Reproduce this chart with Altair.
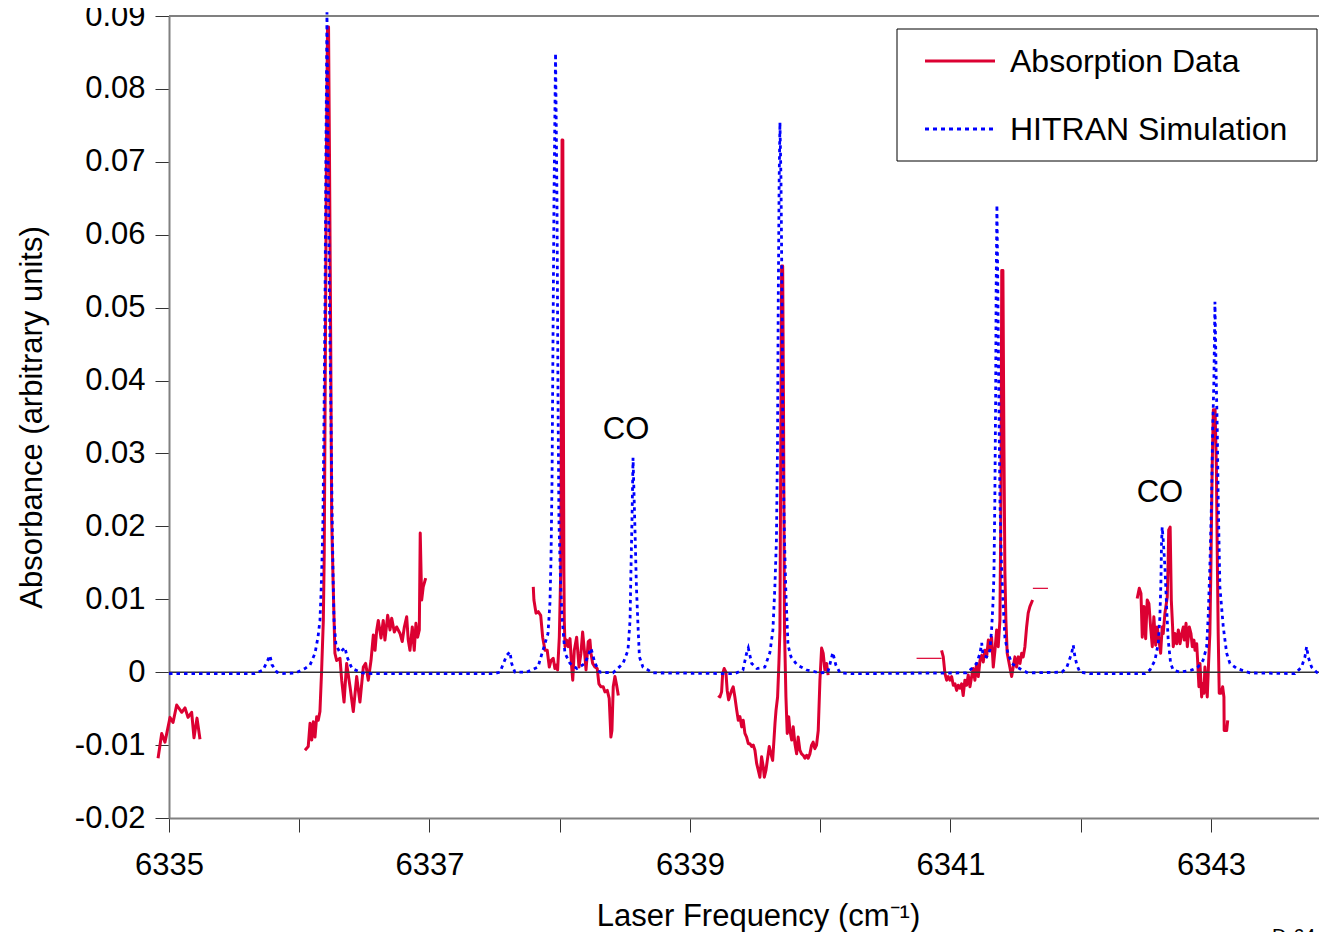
import altair as alt
import pandas as pd

FONT = "Liberation Sans"
RED = "#DC0032"
BLUE = "#0000FF"

# ---------------- data (frequency cm-1, absorbance) ----------------
hitran = [
    (6335.000, -0.0002), (6335.660, -0.0002), (6335.722, 0.0003), (6335.752, 0.0014),
    (6335.775, 0.0023), (6335.791, 0.0010), (6335.829, 0.0000), (6335.868, -0.0002),
    (6335.975, -0.0001), (6336.044, 0.0005), (6336.083, 0.0010), (6336.121, 0.0026),
    (6336.144, 0.0048), (6336.159, 0.0071), (6336.167, 0.0106), (6336.175, 0.0154),
    (6336.182, 0.0209), (6336.186, 0.0277), (6336.190, 0.0346), (6336.198, 0.0510),
    (6336.205, 0.0716), (6336.213, 0.0905), (6336.221, 0.0716), (6336.232, 0.0510),
    (6336.244, 0.0346), (6336.251, 0.0236), (6336.259, 0.0140), (6336.267, 0.0071),
    (6336.282, 0.0037), (6336.313, 0.0027), (6336.351, 0.0034), (6336.367, 0.0021),
    (6336.405, 0.0005), (6336.482, -0.0001), (6336.550, -0.0002), (6337.500, -0.0002),
    (6337.541, 0.0000), (6337.593, 0.0023), (6337.618, 0.0028), (6337.631, 0.0012),
    (6337.656, 0.0000), (6337.746, 0.0000), (6337.833, 0.0007), (6337.871, 0.0030),
    (6337.910, 0.0053), (6337.925, 0.0095), (6337.933, 0.0154), (6337.941, 0.0263),
    (6337.948, 0.0442), (6337.956, 0.0647), (6337.968, 0.0849), (6337.979, 0.0647),
    (6337.987, 0.0373), (6337.994, 0.0209), (6338.006, 0.0126), (6338.017, 0.0078),
    (6338.040, 0.0026), (6338.079, 0.0012), (6338.132, 0.0005), (6338.194, 0.0012),
    (6338.240, 0.0033), (6338.271, 0.0012), (6338.309, 0.0000), (6338.409, -0.0001),
    (6338.486, 0.0012), (6338.524, 0.0030), (6338.540, 0.0071), (6338.547, 0.0140),
    (6338.555, 0.0209), (6338.563, 0.0294), (6338.578, 0.0195), (6338.589, 0.0117),
    (6338.601, 0.0064), (6338.612, 0.0021), (6338.639, 0.0007), (6338.716, -0.0001),
    (6339.346, -0.0002), (6339.407, 0.0003), (6339.435, 0.0026), (6339.448, 0.0033),
    (6339.474, 0.0012), (6339.514, 0.0005), (6339.575, 0.0007), (6339.614, 0.0027),
    (6339.637, 0.0058), (6339.652, 0.0117), (6339.664, 0.0181), (6339.672, 0.0305),
    (6339.678, 0.0510), (6339.685, 0.0675), (6339.691, 0.0754), (6339.699, 0.0675),
    (6339.707, 0.0510), (6339.714, 0.0305), (6339.726, 0.0181), (6339.737, 0.0106),
    (6339.753, 0.0037), (6339.776, 0.0021), (6339.822, 0.0010), (6339.898, 0.0003),
    (6339.997, -0.0001), (6340.059, 0.0000), (6340.082, 0.0016), (6340.097, 0.0027),
    (6340.120, 0.0010), (6340.152, -0.0001), (6340.250, -0.0002), (6341.124, -0.0001),
    (6341.163, 0.0005), (6341.201, 0.0012), (6341.227, 0.0026), (6341.240, 0.0040),
    (6341.250, 0.0023), (6341.278, 0.0021), (6341.303, 0.0030), (6341.316, 0.0058),
    (6341.326, 0.0092), (6341.334, 0.0133), (6341.341, 0.0236), (6341.347, 0.0373),
    (6341.351, 0.0524), (6341.357, 0.0641), (6341.364, 0.0524), (6341.372, 0.0373),
    (6341.380, 0.0236), (6341.391, 0.0154), (6341.403, 0.0099), (6341.418, 0.0048),
    (6341.441, 0.0026), (6341.472, 0.0012), (6341.511, 0.0007), (6341.549, 0.0003),
    (6341.595, -0.0001), (6341.856, 0.0000), (6341.894, 0.0007), (6341.931, 0.0026),
    (6341.943, 0.0037), (6341.956, 0.0021), (6341.971, 0.0010), (6341.994, 0.0000),
    (6342.071, -0.0002), (6342.493, -0.0002), (6342.532, 0.0003), (6342.570, 0.0016),
    (6342.596, 0.0040), (6342.608, 0.0075), (6342.616, 0.0122), (6342.621, 0.0177),
    (6342.626, 0.0199), (6342.634, 0.0181), (6342.647, 0.0144), (6342.660, 0.0089),
    (6342.672, 0.0044), (6342.691, 0.0012), (6342.711, 0.0003), (6342.762, 0.0000),
    (6342.854, 0.0003), (6342.900, 0.0007), (6342.939, 0.0016), (6342.967, 0.0034),
    (6342.979, 0.0075), (6342.992, 0.0144), (6343.005, 0.0236), (6343.013, 0.0328),
    (6343.023, 0.0400), (6343.031, 0.0508), (6343.041, 0.0400), (6343.049, 0.0332),
    (6343.056, 0.0236), (6343.069, 0.0117), (6343.095, 0.0062), (6343.121, 0.0026),
    (6343.146, 0.0012), (6343.200, 0.0005), (6343.300, -0.0001), (6343.645, -0.0002),
    (6343.696, 0.0007), (6343.722, 0.0021), (6343.735, 0.0035), (6343.747, 0.0021),
    (6343.773, 0.0007), (6343.811, 0.0000), (6343.830, -0.0002),
]

absorption_1 = [
    (6334.916, -0.0118), (6334.944, -0.0084), (6334.969, -0.0096), (6335.008, -0.0062),
    (6335.031, -0.0069), (6335.059, -0.0045), (6335.098, -0.0055), (6335.123, -0.0049),
    (6335.146, -0.0062), (6335.174, -0.0055), (6335.192, -0.0090), (6335.215, -0.0063),
    (6335.238, -0.0092),
]

absorption_2 = [
    (6336.044, -0.0107), (6336.069, -0.0102), (6336.083, -0.0070), (6336.096, -0.0093),
    (6336.108, -0.0068), (6336.121, -0.0089), (6336.134, -0.0061), (6336.146, -0.0066),
    (6336.159, -0.0054), (6336.172, 0.0003), (6336.185, 0.0071), (6336.192, 0.0163),
    (6336.201, 0.0442), (6336.209, 0.0716), (6336.217, 0.0885), (6336.225, 0.0885),
    (6336.232, 0.0716), (6336.242, 0.0442), (6336.249, 0.0209), (6336.261, 0.0117),
    (6336.274, 0.0026), (6336.287, 0.0016), (6336.313, 0.0019), (6336.326, -0.0011),
    (6336.344, -0.0041), (6336.364, 0.0012), (6336.390, -0.0020), (6336.415, -0.0054),
    (6336.441, -0.0006), (6336.466, -0.0041), (6336.492, 0.0007), (6336.510, 0.0012),
    (6336.530, -0.0011), (6336.551, 0.0016), (6336.569, 0.0051), (6336.582, 0.0030),
    (6336.595, 0.0058), (6336.607, 0.0071), (6336.628, 0.0047), (6336.645, 0.0071),
    (6336.658, 0.0044), (6336.679, 0.0078), (6336.697, 0.0058), (6336.710, 0.0074),
    (6336.730, 0.0055), (6336.748, 0.0062), (6336.774, 0.0053), (6336.791, 0.0042),
    (6336.807, 0.0062), (6336.825, 0.0076), (6336.837, 0.0044), (6336.850, 0.0030),
    (6336.868, 0.0062), (6336.883, 0.0030), (6336.896, 0.0067), (6336.909, 0.0048),
    (6336.922, 0.0058), (6336.929, 0.0191), (6336.940, 0.0099), (6336.952, 0.0117),
    (6336.971, 0.0129),
]

absorption_3 = [
    (6337.797, 0.0117), (6337.802, 0.0099), (6337.818, 0.0081), (6337.835, 0.0083),
    (6337.854, 0.0078), (6337.869, 0.0048), (6337.887, 0.0030), (6337.904, 0.0030),
    (6337.920, 0.0007), (6337.933, 0.0016), (6337.950, 0.0019), (6337.963, 0.0005),
    (6337.977, 0.0010), (6337.984, 0.0003), (6337.997, 0.0048), (6338.008, 0.0140),
    (6338.014, 0.0442), (6338.018, 0.0730), (6338.024, 0.0730), (6338.028, 0.0373),
    (6338.032, 0.0140), (6338.035, 0.0071), (6338.041, 0.0035), (6338.054, 0.0044),
    (6338.066, 0.0035), (6338.079, 0.0046), (6338.092, 0.0007), (6338.100, -0.0011),
    (6338.112, 0.0030), (6338.130, 0.0048), (6338.148, 0.0007), (6338.163, 0.0026),
    (6338.176, 0.0055), (6338.194, 0.0021), (6338.202, 0.0003), (6338.219, 0.0042),
    (6338.232, 0.0044), (6338.240, 0.0026), (6338.253, 0.0012), (6338.271, 0.0007),
    (6338.288, 0.0005), (6338.301, -0.0016), (6338.317, -0.0020), (6338.334, -0.0020),
    (6338.347, -0.0027), (6338.365, -0.0025), (6338.380, -0.0036), (6338.393, -0.0089),
    (6338.401, -0.0080), (6338.411, -0.0020), (6338.424, -0.0006), (6338.437, -0.0018),
    (6338.450, -0.0032),
]

absorption_4 = [
    (6339.217, -0.0032), (6339.230, -0.0034), (6339.243, -0.0027), (6339.251, -0.0002),
    (6339.263, 0.0005), (6339.276, 0.0000), (6339.286, -0.0025), (6339.297, -0.0038),
    (6339.307, -0.0032), (6339.320, -0.0025), (6339.332, -0.0020), (6339.345, -0.0034),
    (6339.359, -0.0052), (6339.371, -0.0066), (6339.384, -0.0061), (6339.397, -0.0075),
    (6339.409, -0.0066), (6339.422, -0.0084), (6339.435, -0.0089), (6339.448, -0.0098),
    (6339.461, -0.0098), (6339.474, -0.0102), (6339.486, -0.0100), (6339.499, -0.0107),
    (6339.512, -0.0125), (6339.524, -0.0134), (6339.537, -0.0144), (6339.550, -0.0116),
    (6339.563, -0.0130), (6339.571, -0.0144), (6339.584, -0.0134), (6339.594, -0.0121),
    (6339.609, -0.0102), (6339.622, -0.0112), (6339.635, -0.0121), (6339.645, -0.0093),
    (6339.653, -0.0070), (6339.661, -0.0052), (6339.673, -0.0034), (6339.683, 0.0012),
    (6339.691, 0.0058), (6339.699, 0.0373), (6339.704, 0.0557), (6339.712, 0.0557),
    (6339.718, 0.0373), (6339.726, 0.0058), (6339.737, -0.0034), (6339.747, -0.0084),
    (6339.758, -0.0061), (6339.768, -0.0080), (6339.781, -0.0093), (6339.793, -0.0075),
    (6339.806, -0.0098), (6339.819, -0.0112), (6339.831, -0.0089), (6339.844, -0.0107),
    (6339.857, -0.0112), (6339.870, -0.0114), (6339.883, -0.0118), (6339.896, -0.0114),
    (6339.908, -0.0118), (6339.921, -0.0112), (6339.934, -0.0100), (6339.946, -0.0096),
    (6339.959, -0.0105), (6339.972, -0.0100), (6339.985, -0.0080), (6339.998, -0.0011),
    (6340.011, 0.0033), (6340.023, 0.0026), (6340.036, 0.0003), (6340.049, 0.0012),
    (6340.061, -0.0004),
]

absorption_5 = [
    (6340.932, 0.0030), (6340.945, 0.0021), (6340.958, -0.0002), (6340.971, -0.0011),
    (6340.983, -0.0006), (6340.996, -0.0011), (6341.009, -0.0006), (6341.022, -0.0018),
    (6341.035, -0.0016), (6341.048, -0.0025), (6341.060, -0.0018), (6341.073, -0.0022),
    (6341.086, -0.0016), (6341.098, -0.0032), (6341.111, -0.0011), (6341.124, -0.0018),
    (6341.137, -0.0004), (6341.150, -0.0020), (6341.163, -0.0006), (6341.175, 0.0005),
    (6341.188, -0.0011), (6341.201, 0.0012), (6341.214, -0.0006), (6341.227, 0.0016),
    (6341.240, 0.0023), (6341.252, 0.0014), (6341.265, 0.0030), (6341.278, 0.0021),
    (6341.291, 0.0044), (6341.303, 0.0030), (6341.316, 0.0048), (6341.329, 0.0007),
    (6341.342, 0.0030), (6341.355, 0.0058), (6341.367, 0.0035), (6341.380, 0.0071),
    (6341.388, 0.0236), (6341.394, 0.0551), (6341.403, 0.0551), (6341.411, 0.0305),
    (6341.418, 0.0140), (6341.426, 0.0071), (6341.436, 0.0026), (6341.451, 0.0012),
    (6341.470, -0.0006), (6341.482, 0.0007), (6341.495, 0.0021), (6341.508, 0.0007),
    (6341.521, 0.0021), (6341.534, 0.0012), (6341.547, 0.0026), (6341.559, 0.0021),
    (6341.572, 0.0035), (6341.585, 0.0062), (6341.597, 0.0081), (6341.610, 0.0090),
    (6341.631, 0.0099),
]

absorption_6 = [
    (6342.434, 0.0101), (6342.450, 0.0115), (6342.463, 0.0108), (6342.473, 0.0048),
    (6342.486, 0.0090), (6342.499, 0.0046), (6342.511, 0.0099), (6342.524, 0.0094),
    (6342.537, 0.0062), (6342.550, 0.0035), (6342.562, 0.0076), (6342.576, 0.0037),
    (6342.588, 0.0062), (6342.601, 0.0044), (6342.614, 0.0026), (6342.626, 0.0062),
    (6342.634, 0.0053), (6342.647, 0.0081), (6342.665, 0.0103), (6342.672, 0.0154),
    (6342.676, 0.0195), (6342.687, 0.0199), (6342.696, 0.0099), (6342.706, 0.0062),
    (6342.711, 0.0035), (6342.724, 0.0053), (6342.737, 0.0039), (6342.750, 0.0058),
    (6342.763, 0.0039), (6342.776, 0.0053), (6342.788, 0.0062), (6342.796, 0.0044),
    (6342.809, 0.0067), (6342.819, 0.0035), (6342.834, 0.0062), (6342.847, 0.0053),
    (6342.857, 0.0035), (6342.870, 0.0044), (6342.878, 0.0030), (6342.891, 0.0039),
    (6342.898, 0.0016), (6342.908, -0.0020), (6342.916, 0.0012), (6342.929, -0.0034),
    (6342.936, -0.0016), (6342.946, -0.0029), (6342.954, 0.0007), (6342.962, -0.0011),
    (6342.972, -0.0034), (6342.983, 0.0016), (6342.992, 0.0053), (6343.000, 0.0144),
    (6343.010, 0.0282), (6343.019, 0.0360), (6343.032, 0.0360), (6343.042, 0.0282),
    (6343.050, 0.0144), (6343.056, 0.0053), (6343.064, -0.0029), (6343.077, -0.0029),
    (6343.090, -0.0020), (6343.100, -0.0034), (6343.102, -0.0080), (6343.121, -0.0080),
    (6343.129, -0.0066),
]

# short thin pieces of the measured trace
absorption_thin_1 = [(6340.740, 0.0019), (6340.932, 0.0019)]
absorption_thin_2 = [(6341.633, 0.0115), (6341.749, 0.0115)]

x_tick_values = [6335, 6336, 6337, 6338, 6339, 6340, 6341, 6342, 6343]
y_tick_values = [-0.02, -0.01, 0.0, 0.01, 0.02, 0.03, 0.04, 0.05, 0.06, 0.07, 0.08, 0.09]

annotations = [(6338.509, 0.0332, "CO"), (6342.609, 0.0246, "CO")]

# ---------------- frames ----------------
red_rows = []
for seg_id, (seg, w) in enumerate([
    (absorption_1, 3), (absorption_2, 3), (absorption_3, 3), (absorption_4, 3),
    (absorption_5, 3), (absorption_6, 3), (absorption_thin_1, 1.2), (absorption_thin_2, 1.2),
]):
    for i, (f, a) in enumerate(seg):
        red_rows.append({"f": f, "a": a, "seg": seg_id, "i": i, "w": w})
red_df = pd.DataFrame(red_rows)

blue_df = pd.DataFrame([{"f": f, "a": a, "i": i} for i, (f, a) in enumerate(hitran)])
ann_df = pd.DataFrame([{"f": f, "a": a, "t": t} for f, a, t in annotations])

x_scale = alt.Scale(domain=[6335, 6343.83], nice=False, zero=False)
y_scale = alt.Scale(domain=[-0.02, 0.09], nice=False, zero=False)

x_axis = alt.Axis(
    values=x_tick_values,
    labelExpr="datum.value % 2 == 1 ? format(datum.value, 'd') : ''",
    tickSize=14, tickColor="#333333", tickWidth=1,
    domainColor="#808080", domainWidth=2,
    labelFont=FONT, labelFontSize=31, labelColor="black", labelPadding=18,
    labelFlush=False, labelOverlap=False,
    grid=False,
    title="Laser Frequency (cm⁻¹)", titleFont=FONT, titleFontSize=31,
    titleFontWeight="normal", titleColor="black", titlePadding=21, titleX=589,
)
y_axis = alt.Axis(
    values=y_tick_values,
    labelExpr="abs(datum.value) < 1e-9 ? '0' : (datum.value < 0 ? '-' : '') + format(abs(datum.value), '.2f')",
    tickSize=14, tickColor="#333333", tickWidth=1,
    domainColor="#808080", domainWidth=2,
    labelFont=FONT, labelFontSize=31, labelColor="black", labelPadding=10,
    labelFlush=False, labelOverlap=False,
    grid=False,
    title="Absorbance (arbitrary units)", titleFont=FONT, titleFontSize=31,
    titleFontWeight="normal", titleColor="black", titlePadding=26,
)

red = alt.Chart(red_df).mark_line(color=RED, strokeJoin="round", strokeCap="butt").encode(
    x=alt.X("f:Q", scale=x_scale, axis=x_axis),
    y=alt.Y("a:Q", scale=y_scale, axis=y_axis),
    detail="seg:N",
    order="i:Q",
    strokeWidth=alt.StrokeWidth("w:Q", scale=None),
)

blue = alt.Chart(blue_df).mark_line(color=BLUE, strokeWidth=2.8, strokeDash=[3.5, 4]).encode(
    x=alt.X("f:Q", scale=x_scale),
    y=alt.Y("a:Q", scale=y_scale),
    order="i:Q",
)

zero_line = alt.Chart(pd.DataFrame({"a": [0.0]})).mark_rule(color="#333333", strokeWidth=1.5).encode(
    y=alt.Y("a:Q", scale=y_scale)
)
top_line = alt.Chart(pd.DataFrame({"a": [0.09]})).mark_rule(color="#808080", strokeWidth=2).encode(
    y=alt.Y("a:Q", scale=y_scale)
)

co_text = alt.Chart(ann_df).mark_text(
    font=FONT, fontSize=31, color="black", align="center", baseline="middle"
).encode(
    x=alt.X("f:Q", scale=x_scale),
    y=alt.Y("a:Q", scale=y_scale),
    text="t:N",
)

id_text = alt.Chart(pd.DataFrame({"f": [6343.47], "a": [-0.0350], "t": ["D-644"]})).mark_text(
    font=FONT, fontSize=20, color="black", align="left", baseline="top"
).encode(
    x=alt.X("f:Q", scale=x_scale),
    y=alt.Y("a:Q", scale=y_scale),
    text="t:N",
)

one = pd.DataFrame({"k": [0]})
legend_box = alt.Chart(one).mark_rect(fill="white", stroke="black", strokeWidth=1).encode(
    x=alt.value(728), x2=alt.value(1148), y=alt.value(13), y2=alt.value(145)
)
legend_red = alt.Chart(one).mark_rule(color=RED, strokeWidth=3).encode(
    x=alt.value(756), x2=alt.value(826), y=alt.value(45)
)
legend_blue = alt.Chart(one).mark_rule(color=BLUE, strokeWidth=2.8, strokeDash=[4, 4]).encode(
    x=alt.value(756), x2=alt.value(824), y=alt.value(113)
)
legend_t1 = alt.Chart(one).mark_text(
    text="Absorption Data", font=FONT, fontSize=32, color="black", align="left", baseline="middle"
).encode(x=alt.value(841), y=alt.value(46))
legend_t2 = alt.Chart(one).mark_text(
    text="HITRAN Simulation", font=FONT, fontSize=32, color="black", align="left", baseline="middle"
).encode(x=alt.value(841), y=alt.value(114))

chart = alt.layer(
    red, zero_line, top_line, blue, co_text, id_text,
    legend_box, legend_red, legend_blue, legend_t1, legend_t2,
).properties(
    width=1150,
    height=802,
    autosize=alt.AutoSizeParams(type="none"),
    padding={"left": 161, "top": 8, "right": 0, "bottom": 114},
).configure_view(stroke=None).configure(background="white")

chart.save("out.html", embed_options={"renderer": "svg", "actions": False})
